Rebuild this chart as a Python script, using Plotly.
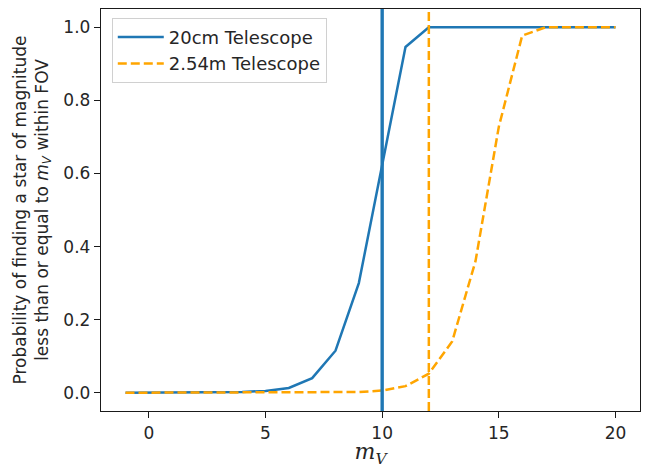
import plotly.graph_objects as go

mag = list(range(-1, 21))
p_20cm = [0.0, 0.0, 0.0, 0.0005, 0.001, 0.002, 0.005, 0.013, 0.04, 0.115, 0.30, 0.628,
          0.946, 1.0, 1.0, 1.0, 1.0, 1.0, 1.0, 1.0, 1.0, 1.0]
p_254m = [0.0, 0.0, 0.0, 0.0, 0.0, 0.0, 0.0, 0.0, 0.0005, 0.001, 0.002, 0.006,
          0.018, 0.052, 0.14, 0.36, 0.728, 0.977, 1.0, 1.0, 1.0, 1.0]
limit_20cm = 10
limit_254m = 12
names = ["20cm Telescope", "2.54m Telescope"]
blue = "#1f77b4"
orange = "#FFA500"
dash = "9px,4px"

fig = go.Figure()
fig.add_trace(go.Scatter(x=mag, y=p_20cm, mode="lines", name=names[0],
                         line=dict(color=blue, width=2.5)))
fig.add_trace(go.Scatter(x=mag, y=p_254m, mode="lines", name=names[1],
                         line=dict(color=orange, width=2.5, dash=dash)))
fig.add_shape(type="line", xref="x", yref="paper", x0=limit_20cm, x1=limit_20cm, y0=0, y1=1,
              line=dict(color=blue, width=3.4), layer="above")
fig.add_shape(type="line", xref="x", yref="paper", x0=limit_254m, x1=limit_254m, y0=0, y1=1,
              line=dict(color=orange, width=2.5, dash=dash), layer="above")

axis_common = dict(showline=True, linecolor="#1a1a1a", linewidth=1.4, mirror=True,
                   ticks="outside", ticklen=6, tickwidth=1.4, tickcolor="#1a1a1a",
                   showgrid=False, zeroline=False,
                   tickfont=dict(family="DejaVu Sans", size=17, color="#262626"))

fig.update_layout(
    width=652, height=468,
    margin=dict(l=101, r=12, t=8, b=56),
    plot_bgcolor="white", paper_bgcolor="white",
    font=dict(family="DejaVu Sans", color="#262626"),
    xaxis=dict(range=[-2.05, 21.05], tickvals=[0, 5, 10, 15, 20],
               title=dict(text="<i>m</i><sub><i>V</i></sub>",
                          font=dict(family="DejaVu Serif", size=22, color="#262626"),
                          standoff=2),
               **axis_common),
    yaxis=dict(range=[-0.05, 1.05], tickvals=[0, 0.2, 0.4, 0.6, 0.8, 1.0],
               tickformat=".1f",
               title=dict(text="Probability of finding a star of magnitude<br>less than or equal to <i>m<sub>V</sub></i> within FOV",
                          font=dict(family="DejaVu Sans", size=17, color="#262626"),
                          standoff=10),
               **axis_common),
    legend=dict(x=0.02, y=0.978, xanchor="left", yanchor="top",
                bgcolor="rgba(255,255,255,0.8)", bordercolor="#d0d0d0", borderwidth=1,
                font=dict(family="DejaVu Sans", size=18, color="#262626"),
                itemwidth=46, tracegroupgap=0),
    showlegend=True,
)

fig.write_html("out.html")
